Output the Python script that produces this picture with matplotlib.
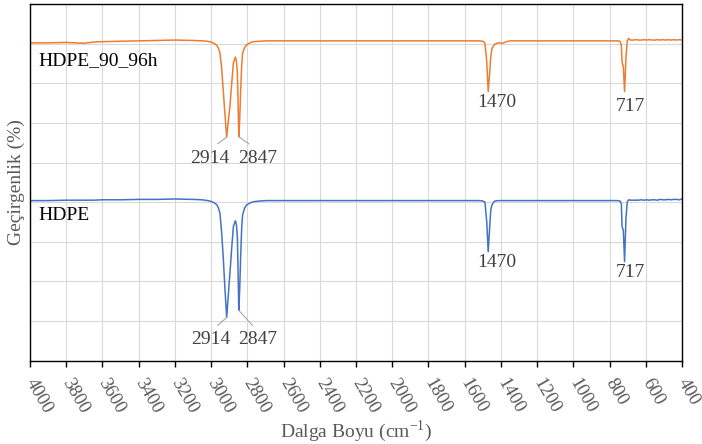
import matplotlib.pyplot as plt

# FTIR transmittance of HDPE before and after 96 h at 90 °C (aged curve shifted up by 40)
wavenumber = [
    4000, 3900, 3800, 3700, 3650, 3600, 3500, 3400, 3300, 3200, 3100, 3050,
    3020, 3000, 2985, 2969, 2960, 2951, 2942, 2933, 2924, 2914, 2905, 2896, 2886, 2877,
    2866, 2860, 2855, 2851, 2847, 2842, 2837, 2831, 2826, 2815, 2804, 2785, 2767, 2730, 2693,
    2600, 2400, 2200, 2000, 1800, 1600, 1520,
    1500, 1488, 1478, 1470, 1462, 1456, 1449, 1440, 1432, 1414, 1390, 1368, 1350,
    1200, 1000, 850, 760,
    742, 735, 731, 724, 717, 709, 702, 694, 685,
    670, 655, 640, 625, 610, 595, 580, 565, 550, 535, 520, 505, 490, 475, 460, 445, 430, 415, 400,
]

hdpe_aged = [
    80.2, 80.2, 80.3, 80.1, 80.4, 80.5, 80.6, 80.7, 80.8, 80.9, 80.8, 80.7,
    80.6, 80.4, 80.1, 79.6, 78.9, 77.6, 74.0, 68.3, 62.5, 56.4, 60.5, 64.1, 70.0, 75.1,
    76.6, 75.6, 72.6, 65.0, 56.5, 61.0, 68.0, 74.5, 77.6, 79.0, 79.7, 80.2, 80.5, 80.6, 80.7,
    80.7, 80.7, 80.7, 80.7, 80.7, 80.7, 80.7,
    80.6, 80.1, 75.5, 67.9, 72.5, 76.7, 78.8, 79.5, 79.9, 80.2, 80.1, 80.5, 80.7,
    80.7, 80.7, 80.7, 80.7,
    80.6, 79.6, 75.4, 74.2, 67.9, 76.7, 80.7, 81.3, 80.9,
    80.9, 81.0, 80.9, 80.9, 81.0, 80.9, 81.0, 80.9, 80.9, 81.0, 80.9, 81.0, 80.9, 81.0, 80.9, 81.0, 80.9, 81.0, 80.9,
]

hdpe = [
    40.4, 40.4, 40.5, 40.5, 40.5, 40.6, 40.6, 40.7, 40.7, 40.8, 40.7, 40.6,
    40.4, 40.2, 39.9, 39.4, 38.6, 37.2, 32.5, 26.2, 18.5, 10.9, 16.5, 22.1, 28.5, 33.8,
    35.3, 34.3, 31.3, 22.5, 12.7, 18.0, 26.0, 33.5, 36.8, 38.5, 39.3, 39.8, 40.1, 40.3, 40.4,
    40.4, 40.4, 40.4, 40.4, 40.4, 40.4, 40.4,
    40.3, 40.0, 35.0, 27.5, 33.5, 38.0, 39.3, 40.0, 40.3, 40.4, 40.4, 40.4, 40.4,
    40.4, 40.4, 40.4, 40.4,
    40.3, 39.6, 33.8, 33.0, 25.0, 36.3, 40.1, 40.6, 40.5,
    40.5, 40.5, 40.5, 40.6, 40.5, 40.6, 40.5, 40.6, 40.6, 40.5, 40.7, 40.6, 40.6, 40.7, 40.6, 40.7, 40.7, 40.6, 40.8,
]

peaks = [2914, 2847, 1470, 717]
tick_values = list(range(4000, 399, -200))
tick_labels = [str(v) for v in tick_values]

plt.rcParams['font.family'] = ['Liberation Serif', 'DejaVu Serif']
plt.rcParams['mathtext.fontset'] = 'custom'
plt.rcParams['mathtext.rm'] = 'Liberation Serif'

fig, ax = plt.subplots(figsize=(7.02, 4.44), dpi=100)
fig.subplots_adjust(left=0.0427, right=0.9715, bottom=0.1876, top=0.991)

ax.plot(wavenumber, hdpe, color='#4472C4', lw=1.1)
ax.plot(wavenumber, hdpe_aged, color='#ED7D31', lw=1.1)

ax.set_xlim(4000, 400)
ax.set_ylim(0, 90)
ax.set_xticks(tick_values)
ax.set_xticklabels(tick_labels)
ax.set_yticks(range(0, 91, 10))
ax.set_yticklabels([])
ax.tick_params(axis='y', length=0)
ax.tick_params(axis='x', length=4, width=1, color='black', labelcolor='#595959',
               labelsize=13.5, pad=10)
plt.setp(ax.get_xticklabels(), rotation=-60, ha='left', va='center', rotation_mode='anchor')
ax.grid(color='#d9d9d9', lw=0.8)
ax.set_axisbelow(True)
for side in ax.spines.values():
    side.set_color('black')
    side.set_linewidth(1)

ax.set_xlabel(r'Dalga Boyu (cm$^{\mathregular{-1}}$)', fontsize=14, color='#595959', labelpad=1)
ax.set_ylabel('Geçirgenlik (%)', fontsize=14, color='#595959', labelpad=0)

ax.text(0.0127, 0.830, 'HDPE_90_96h', transform=ax.transAxes, fontsize=14, va='baseline')
ax.text(0.0127, 0.394, 'HDPE', transform=ax.transAxes, fontsize=14, va='baseline')

# peak labels, offsets in points below each minimum
aged_offsets = {2914: (-12, -18.3), 2847: (13.4, -18.7), 1470: (6.2, -11.2), 717: (4.4, -13.7)}
base_offsets = {2914: (-11.3, -19.2), 2847: (13.7, -24.5), 1470: (6.2, -11.2), 717: (4.4, -11.2)}

for series, offsets in [(hdpe_aged, aged_offsets), (hdpe, base_offsets)]:
    for p in peaks:
        y = series[wavenumber.index(p)]
        lead = None
        if p in (2914, 2847):
            lead = dict(arrowstyle='-', color='#a6a6a6', lw=0.8, shrinkA=0, shrinkB=0,
                        relpos=(0.5, 1))
        ax.annotate(str(p), xy=(p, y), xytext=offsets[p], textcoords='offset points',
                    ha='center', va='baseline', fontsize=14, color='#404040',
                    arrowprops=lead,
                    bbox=dict(boxstyle='square,pad=0.3', fc='none', ec='none'))

fig.savefig('out.png', dpi=100)
